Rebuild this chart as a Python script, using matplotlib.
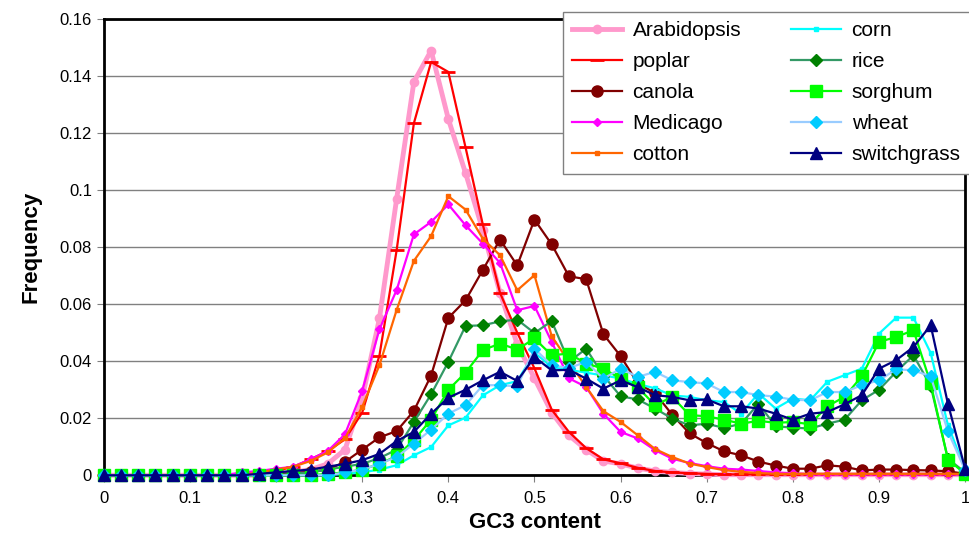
import numpy as np
import matplotlib
matplotlib.use('Agg')
import matplotlib.pyplot as plt
from matplotlib.ticker import FuncFormatter

plt.rcParams['font.family'] = ['Liberation Sans', 'DejaVu Sans']

# GC3 content bins (every 0.02 from 0 to 1)
gc3 = np.round(np.arange(51) * 0.02, 2)

arabidopsis = [0, 0, 0, 0, 0, 0, 0, 0, 0, 0,
               0.0005, 0.001, 0.002, 0.004, 0.009, 0.027, 0.055, 0.097, 0.138, 0.149,
               0.125, 0.106, 0.086, 0.064, 0.046, 0.034, 0.022, 0.014, 0.009, 0.005,
               0.004, 0.0025, 0.0015, 0.001, 0.0006, 0.0004, 0.0002, 0.0002, 0.0002, 0.0002,
               0.0002, 0.0002, 0.0002, 0.0002, 0.0002, 0.0002, 0.0002, 0.0002, 0.0002, 0.0002,
               0.0002]
poplar = [0, 0, 0, 0, 0, 0, 0, 0, 0.0005, 0.0008,
          0.0015, 0.003, 0.0056, 0.0085, 0.0126, 0.022, 0.042, 0.079, 0.1235, 0.145,
          0.1415, 0.115, 0.088, 0.064, 0.050, 0.0375, 0.023, 0.0152, 0.0095, 0.0056,
          0.0042, 0.0026, 0.0015, 0.001, 0.0007, 0.0005, 0.0003, 0.0003, 0.0003, 0.0003,
          0.0003, 0.0003, 0.0003, 0.0003, 0.0003, 0.0003, 0.0003, 0.0003, 0.0003, 0.0003,
          0.0003]
canola = [0, 0, 0, 0, 0, 0, 0, 0, 0, 0,
          0.0004, 0.0008, 0.0012, 0.002, 0.0047, 0.009, 0.0133, 0.0155, 0.0226, 0.035,
          0.0552, 0.0614, 0.072, 0.0827, 0.0736, 0.0897, 0.081, 0.0698, 0.0688, 0.0495,
          0.0418, 0.0322, 0.0288, 0.0212, 0.0147, 0.0113, 0.0084, 0.007, 0.0048, 0.0034,
          0.0023, 0.0023, 0.0035, 0.003, 0.0017, 0.002, 0.002, 0.0018, 0.0017, 0.0014,
          0.0005]
medicago = [0, 0, 0, 0, 0, 0, 0, 0, 0.001, 0.0015,
            0.0023, 0.003, 0.0056, 0.0085, 0.0144, 0.0296, 0.0512, 0.065, 0.0845, 0.0889,
            0.095, 0.0877, 0.0813, 0.0745, 0.0579, 0.0594, 0.0468, 0.034, 0.031, 0.0216,
            0.0152, 0.0129, 0.0088, 0.0058, 0.0043, 0.0032, 0.0023, 0.002, 0.0015, 0.001,
            0.0007, 0.0003, 0.0003, 0.0003, 0.0003, 0.0003, 0.0003, 0.0003, 0.0003, 0.0003,
            0.0003]
cotton = [0, 0, 0, 0, 0, 0, 0, 0, 0, 0.001,
          0.002, 0.003, 0.005, 0.008, 0.013, 0.024, 0.0386, 0.058, 0.0752, 0.0839,
          0.0979, 0.0932, 0.083, 0.0772, 0.0649, 0.0702, 0.0488, 0.0398, 0.031, 0.0225,
          0.0187, 0.014, 0.0092, 0.0064, 0.0041, 0.0029, 0.0018, 0.0012, 0.0008, 0.0005,
          0.0005, 0.0005, 0.0005, 0.0005, 0.0005, 0.0005, 0.0005, 0.0005, 0.0005, 0.0005,
          0.0005]
corn = [0, 0, 0, 0, 0, 0, 0, 0, 0, 0,
        0, 0, 0, 0, 0.0005, 0.001, 0.002, 0.0035, 0.007, 0.0099,
        0.0175, 0.0202, 0.028, 0.0316, 0.033, 0.043, 0.038, 0.037, 0.036, 0.035,
        0.034, 0.032, 0.0305, 0.028, 0.0275, 0.0263, 0.0257, 0.0216, 0.0287, 0.0234,
        0.0269, 0.0263, 0.0328, 0.0351, 0.0374, 0.0497, 0.0553, 0.0553, 0.0429, 0.0176,
        0.002]
rice = [0, 0, 0, 0, 0, 0, 0, 0, 0, 0,
        0, 0.0005, 0.001, 0.002, 0.003, 0.004, 0.006, 0.009, 0.0187, 0.0284,
        0.0398, 0.0524, 0.0526, 0.054, 0.0546, 0.0499, 0.0541, 0.0398, 0.0444, 0.035,
        0.0277, 0.0266, 0.0234, 0.0199, 0.0175, 0.0181, 0.0166, 0.0181, 0.0251, 0.0172,
        0.0167, 0.0164, 0.0181, 0.0195, 0.0263, 0.030, 0.0363, 0.0421, 0.0313, 0.0058,
        0.001]
sorghum = [0, 0, 0, 0, 0, 0, 0, 0, 0, 0,
           0, 0, 0, 0.0005, 0.001, 0.002, 0.004, 0.0067, 0.0123, 0.0195,
           0.030, 0.036, 0.0439, 0.0462, 0.0441, 0.048, 0.0421, 0.0427, 0.0392, 0.0374,
           0.0339, 0.0308, 0.0246, 0.0275, 0.0211, 0.0207, 0.0195, 0.0181, 0.0191, 0.0184,
           0.0187, 0.0179, 0.0242, 0.0275, 0.0347, 0.0468, 0.0485, 0.0509, 0.0322, 0.0055,
           0.0005]
wheat = [0, 0, 0, 0, 0, 0, 0, 0, 0, 0,
         0, 0, 0, 0, 0.001, 0.002, 0.004, 0.0064, 0.0111, 0.016,
         0.0216, 0.0246, 0.0316, 0.0316, 0.0312, 0.0444, 0.0386, 0.0376, 0.0398, 0.0339,
         0.0374, 0.0345, 0.0363, 0.0333, 0.0327, 0.0322, 0.0292, 0.0292, 0.0281, 0.0276,
         0.0265, 0.0263, 0.0292, 0.0292, 0.0316, 0.0333, 0.0372, 0.0368, 0.0347, 0.0154,
         0.0018]
switchgrass = [0, 0, 0, 0, 0, 0, 0, 0, 0, 0.0005,
               0.001, 0.0015, 0.002, 0.003, 0.004, 0.0053, 0.0075, 0.012, 0.0152, 0.0216,
               0.0272, 0.030, 0.0333, 0.0363, 0.0331, 0.0415, 0.0368, 0.037, 0.0339, 0.0304,
               0.0333, 0.0309, 0.0281, 0.0275, 0.0263, 0.0266, 0.0242, 0.0242, 0.0234, 0.0216,
               0.0195, 0.0216, 0.0222, 0.0249, 0.0281, 0.0374, 0.0404, 0.045, 0.0526, 0.0251,
               0.0023]

# (label, values, line colour, marker, marker face, marker size, line width)
series = [
    ('Arabidopsis', arabidopsis, '#FF99CC', 'o', '#FF99CC', 6, 3.5),
    ('poplar', poplar, '#FF0000', '_', '#FF0000', 10, 1.6),
    ('canola', canola, '#800000', 'o', '#800000', 8, 1.6),
    ('Medicago', medicago, '#FF00FF', 'D', '#FF00FF', 4, 1.6),
    ('cotton', cotton, '#FF6600', 's', '#FF6600', 3, 1.6),
    ('corn', corn, '#00FFFF', 's', '#00FFFF', 3, 1.6),
    ('rice', rice, '#339966', 'D', '#008000', 6, 1.6),
    ('sorghum', sorghum, '#00FF00', 's', '#00FF00', 8, 1.6),
    ('wheat', wheat, '#99CCFF', 'D', '#00CCFF', 6, 1.6),
    ('switchgrass', switchgrass, '#000080', '^', '#000080', 8, 1.6),
]

fig = plt.figure(figsize=(9.7, 5.34), dpi=100)
ax = fig.add_axes([0.107, 0.110, 0.888, 0.854])

for name, vals, col, mk, mfc, ms, lw in series:
    ax.plot(gc3, vals, color=col, marker=mk, markerfacecolor=mfc, markeredgecolor=mfc,
            markersize=ms, linewidth=lw, markeredgewidth=2 if mk == '_' else 1,
            label=name, clip_on=False, zorder=3)

ax.set_xlim(0, 1)
ax.set_ylim(0, 0.16)
ax.set_xticks(np.arange(0, 1.01, 0.1))
ax.set_yticks(np.arange(0, 0.161, 0.02))
fmt = FuncFormatter(lambda v, p: '%g' % round(v, 2))
ax.xaxis.set_major_formatter(fmt)
ax.yaxis.set_major_formatter(fmt)
ax.tick_params(labelsize=12, direction='out', length=5, color='#808080')
ax.tick_params(axis='x', pad=6)
ax.yaxis.grid(True, color='#808080', linewidth=1)
ax.set_axisbelow(True)
for s in ax.spines.values():
    s.set_linewidth(2)
    s.set_color('black')

ax.set_xlabel('GC3 content', fontsize=16, fontweight='bold', labelpad=5)
ax.set_ylabel('Frequency', fontsize=16, fontweight='bold', labelpad=13)

leg = ax.legend(ncol=2, loc='upper right', bbox_to_anchor=(1.0, 0.978),
                bbox_transform=fig.transFigure, fontsize=15, frameon=True,
                fancybox=False, framealpha=1, edgecolor='#808080',
                handlelength=2.4, handletextpad=0.5, columnspacing=2.4,
                labelspacing=0.58, borderpad=0.45, borderaxespad=0)
leg.get_frame().set_linewidth(1)
leg.set_zorder(10)

fig.savefig('out.png', dpi=100)
